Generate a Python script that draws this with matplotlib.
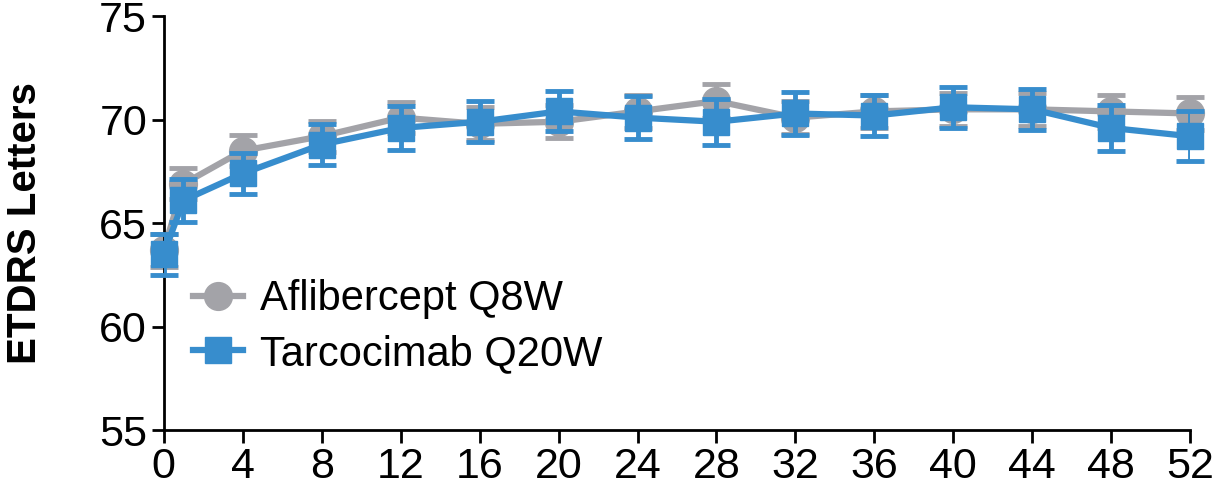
import matplotlib.pyplot as plt
import numpy as np

plt.rcParams['font.family'] = ['Liberation Sans', 'DejaVu Sans']

weeks = [0, 1, 4, 8, 12, 16, 20, 24, 28, 32, 36, 40, 44, 48, 52]
afl = [63.7, 66.9, 68.5, 69.2, 70.1, 69.8, 69.9, 70.4, 70.9, 70.1, 70.4, 70.5, 70.5, 70.4, 70.3]
afl_err = [0.8, 0.75, 0.75, 0.75, 0.75, 0.8, 0.8, 0.8, 0.8, 0.8, 0.8, 0.8, 0.8, 0.8, 0.8]
tar = [63.5, 66.1, 67.4, 68.8, 69.6, 69.9, 70.4, 70.1, 69.9, 70.3, 70.2, 70.6, 70.5, 69.6, 69.2]
tar_err = [1.0, 1.05, 1.0, 1.0, 1.05, 1.0, 0.97, 1.05, 1.1, 1.05, 1.0, 1.0, 1.0, 1.1, 1.2]

grey = '#a3a3a8'
blue = '#378dcd'

fig = plt.figure(figsize=(12.22, 4.91), dpi=100)
ax = fig.add_axes([0.134, 0.124, 0.840, 0.843])

ax.errorbar(weeks, afl, yerr=afl_err, color=grey, lw=4.5, marker='o', ms=20,
            capsize=10, capthick=3.5, elinewidth=3.5, label='Aflibercept Q8W', zorder=2)
ax.errorbar(weeks, tar, yerr=tar_err, color=blue, lw=4.5, marker='s', ms=19,
            capsize=10, capthick=3.5, elinewidth=3.5, label='Tarcocimab Q20W', zorder=3)

ax.set_xlim(0, 52)
ax.set_ylim(55, 75)
ax.set_xticks([0, 4, 8, 12, 16, 20, 24, 28, 32, 36, 40, 44, 48, 52])
ax.set_yticks([55, 60, 65, 70, 75])
ax.tick_params(labelsize=31, width=2, length=9, direction='out', pad=3)
for s in ['top', 'right']:
    ax.spines[s].set_visible(False)
for s in ['left', 'bottom']:
    ax.spines[s].set_linewidth(2)
    ax.spines[s].set_clip_on(False)

ax.set_ylabel('ETDRS Letters', fontsize=29, fontweight='bold', labelpad=40)

h, l = ax.get_legend_handles_labels()
h = [x[0] for x in h]
ax.legend(h, l, loc='lower left', bbox_to_anchor=(0.0, 0.065), frameon=False,
          fontsize=30, handlelength=1.2, handletextpad=0.4, labelspacing=0.35,
          borderaxespad=0.3)

for line in ax.lines:
    line.set_clip_on(False)

fig.savefig('out.png', dpi=100)
